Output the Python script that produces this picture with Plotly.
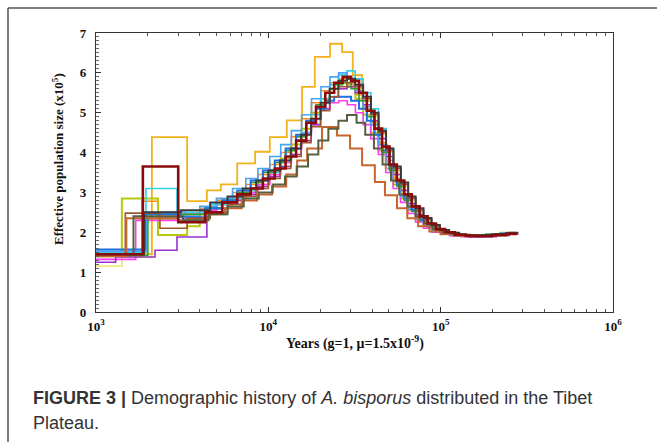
import plotly.graph_objects as go

# ---------------- data (years, Ne x10^5) ----------------
GRID_A = [4300, 5400, 6600, 7900, 9300, 10900, 12600, 14500, 16600, 18900, 21400, 24100,
          27000, 30200, 33600, 37300, 41300, 45700, 50500, 55700, 61500, 68000, 75500,
          84000, 94000, 106000, 121000, 140000, 165000, 198000, 240000, 277000]
GRID_B = [4600, 5800, 7100, 8500, 10000, 11700, 13500, 15500, 17700, 20100, 22700, 25500,
          28600, 31900, 35500, 39400, 43600, 48200, 53200, 58700, 64800, 71600, 79500,
          88500, 99000, 112000, 128000, 148000, 175000, 210000, 250000, 282000]
GRID_C = [4000, 5000, 6200, 7400, 8700, 10200, 11800, 13600, 15600, 17800, 20200, 22800,
          25600, 28700, 32000, 35500, 39300, 43500, 48000, 53000, 58500, 64500, 71500,
          79500, 89000, 100000, 114000, 131000, 153000, 183000, 222000, 270000]

gold_t = [1000, 2110, 3380, 4400, 5300, 6600, 8380, 10200, 12800, 15700, 18600, 22800, 26800,
          30900, 35000, 39500, 44000, 49000, 54500, 60500, 67000, 74500, 83000, 93000, 105000,
          120000, 140000, 165000, 198000, 240000, 277000]
gold_n = [1.45, 4.39, 2.78, 3.05, 3.2, 3.73, 4.02, 4.39, 4.81, 5.65, 6.4, 6.73, 6.52, 5.94,
          5.3, 4.75, 4.2, 3.7, 3.25, 2.85, 2.55, 2.32, 2.15, 2.04, 1.97, 1.93, 1.91, 1.92,
          1.95, 1.98]

sienna_t = [1000, 1500, 3000, 4300, 5600, 7000, 8600, 10500, 12700, 14700, 16800, 20500, 25000,
            29800, 35000, 41500, 47500, 55800, 64000, 74000, 86000, 100000, 120000, 145000,
            175000, 215000, 250000, 277000]
sienna_n = [1.4, 2.35, 2.3, 2.45, 2.6, 2.8, 2.95, 3.15, 3.45, 3.8, 4.1, 4.64, 4.43, 4.1, 3.68,
            3.26, 2.93, 2.6, 2.35, 2.15, 2.02, 1.95, 1.91, 1.9, 1.92, 1.95, 1.98]

olive_t = [1000, 1650, 3200, 4500, 5800, 7200, 8800, 10600, 12500, 14600, 17000, 19500, 22300,
           25500, 28600, 32500, 36500, 41000, 46000, 51500, 57500, 64000, 71500, 80000, 90000,
           102000, 118000, 140000, 168000, 205000, 250000, 277000]
olive_n = [1.45, 2.4, 2.3, 2.45, 2.65, 2.85, 3.0, 3.2, 3.4, 3.65, 3.95, 4.3, 4.6, 4.8, 4.94,
           4.75, 4.45, 4.1, 3.7, 3.3, 2.95, 2.65, 2.4, 2.22, 2.08, 2.0, 1.95, 1.92, 1.92, 1.95,
           1.98]

darkred_t0 = [1000, 1870, 3000]
darkred_n0 = [1.45, 3.65, 2.25]
darkred_n = [2.5, 2.75, 2.95, 3.1, 3.35, 3.6, 3.9, 4.3, 4.75, 5.15, 5.5, 5.75, 5.9, 5.8, 5.5,
             5.05, 4.6, 4.15, 3.7, 3.3, 2.95, 2.65, 2.4, 2.22, 2.08, 2.0, 1.94, 1.91, 1.9,
             1.93, 1.96]

cyan_t0 = [1000, 1950, 2950]
cyan_n0 = [1.5, 3.1, 2.5]
cyan_n = [2.7, 2.85, 3.05, 3.3, 3.5, 3.8, 4.1, 4.5, 4.95, 5.35, 5.7, 5.95, 6.05, 5.85, 5.5,
          5.1, 4.6, 4.1, 3.6, 3.2, 2.85, 2.55, 2.32, 2.15, 2.04, 1.97, 1.93, 1.9, 1.92, 1.95,
          1.98]

ygreen_t0 = [1000, 1413, 2290, 3380]
ygreen_n0 = [1.4, 2.85, 1.93, 2.15]
ygreen_n = [2.45, 2.7, 2.9, 3.05, 3.3, 3.55, 3.85, 4.2, 4.6, 5.0, 5.35, 5.6, 5.75, 5.65, 5.35,
            4.95, 4.5, 4.05, 3.6, 3.2, 2.85, 2.55, 2.33, 2.17, 2.05, 1.98, 1.94, 1.92, 1.93,
            1.96, 1.99]

yellow_t0 = [1000, 1413, 2100, 3500]
yellow_n0 = [1.15, 1.38, 2.3, 2.45]
yellow_n = [2.6, 2.8, 3.0, 3.2, 3.4, 3.65, 3.95, 4.3, 4.7, 5.1, 5.4, 5.6, 5.7, 5.6, 5.3, 4.9,
            4.45, 4.0, 3.55, 3.15, 2.8, 2.5, 2.28, 2.12, 2.02, 1.96, 1.92, 1.9, 1.91, 1.94,
            1.97]

magenta_t0 = [1000, 1700, 3300]
magenta_n0 = [1.32, 2.3, 2.45]
magenta_n = [2.55, 2.7, 2.85, 3.0, 3.2, 3.45, 3.75, 4.1, 4.5, 4.85, 5.1, 5.25, 5.3, 5.2, 5.0,
             4.7, 4.35, 3.95, 3.5, 3.1, 2.75, 2.47, 2.26, 2.1, 2.0, 1.95, 1.91, 1.89, 1.9,
             1.93, 1.96]

purple_t0 = [1000, 1300, 2200, 2950, 4400]
purple_n0 = [1.25, 1.38, 1.55, 1.88, 2.4]
purple_n = [2.6, 2.8, 2.95, 3.15, 3.4, 3.65, 3.95, 4.3, 4.7, 5.1, 5.4, 5.6, 5.65, 5.5, 5.2,
            4.8, 4.35, 3.9, 3.45, 3.05, 2.72, 2.45, 2.25, 2.1, 2.0, 1.94, 1.9, 1.88, 1.89,
            1.92, 1.95]

blue_t0 = [1000, 1930, 3100]
blue_n0 = [1.57, 2.45, 2.38]
blue_n = [2.6, 2.8, 3.05, 3.3, 3.55, 3.8, 4.1, 4.45, 4.8, 5.1, 5.3, 5.4, 5.4, 5.3, 5.1, 4.8,
          4.45, 4.05, 3.6, 3.2, 2.85, 2.55, 2.32, 2.15, 2.04, 1.97, 1.93, 1.91, 1.92, 1.95,
          1.98]

brown_t0 = [1000, 1480, 2350, 3380]
brown_n0 = [1.42, 2.48, 2.1, 2.35]
brown_n = [2.5, 2.7, 2.9, 3.1, 3.35, 3.6, 3.9, 4.25, 4.65, 5.05, 5.4, 5.65, 5.75, 5.65, 5.35,
           4.95, 4.5, 4.05, 3.6, 3.2, 2.85, 2.55, 2.32, 2.16, 2.05, 1.98, 1.94, 1.92, 1.93,
           1.96, 1.99]

orange_t0 = [1000, 1850, 2290]
orange_n0 = [1.4, 2.78, 2.45]
orange_n = [2.6, 2.8, 3.0, 3.2, 3.45, 3.7, 4.0, 4.4, 4.85, 5.25, 5.55, 5.75, 5.85, 5.7, 5.45,
            5.1, 4.7, 4.25, 3.8, 3.35, 2.95, 2.62, 2.37, 2.18, 2.06, 1.98, 1.93, 1.9, 1.91,
            1.94, 1.97]

green_t0 = [1000, 2000, 3000]
green_n0 = [1.42, 2.35, 2.45]
green_n = [2.6, 2.8, 3.0, 3.25, 3.5, 3.75, 4.05, 4.4, 4.8, 5.2, 5.5, 5.7, 5.75, 5.6, 5.3, 4.9,
           4.45, 4.0, 3.55, 3.15, 2.8, 2.52, 2.3, 2.14, 2.03, 1.97, 1.93, 1.91, 1.92, 1.95,
           1.98]

dgray_t0 = [1000, 1900, 3100]
dgray_n0 = [1.45, 2.5, 2.55]
dgray_n = [2.75, 2.9, 3.1, 3.3, 3.55, 3.8, 4.1, 4.45, 4.85, 5.25, 5.6, 5.8, 5.85, 5.7, 5.4,
           5.0, 4.55, 4.1, 3.65, 3.25, 2.9, 2.6, 2.36, 2.18, 2.06, 1.99, 1.94, 1.92, 1.93,
           1.96, 1.99]

lblue_t0 = [1000, 1950, 3300]
lblue_n0 = [1.52, 2.5, 2.4]
lblue_n = [2.65, 2.85, 3.1, 3.35, 3.6, 3.9, 4.2, 4.55, 4.95, 5.35, 5.65, 5.9, 6.0, 5.85, 5.55,
           5.15, 4.7, 4.2, 3.7, 3.28, 2.9, 2.58, 2.34, 2.16, 2.05, 1.98, 1.93, 1.91, 1.92,
           1.95, 1.98]

x_tick_vals = [1000, 10000, 100000, 1000000]
x_tick_text = ["10<sup>3</sup>", "10<sup>4</sup>", "10<sup>5</sup>", "10<sup>6</sup>"]
x_minor_vals = [m * d for d in (1000, 10000, 100000) for m in range(2, 10)]

# ---------------- build ----------------
def custom(t, n):
    return list(t), list(n) + [n[-1]]

def gridded(t0, n0, grid, n):
    return list(t0) + list(grid), list(n0) + list(n) + [n[-1]]

series = [
    ("yellow", gridded(yellow_t0, yellow_n0, GRID_B, yellow_n), "#ece04a", 1.4),
    ("gold", custom(gold_t, gold_n), "#f2b21c", 1.8),
    ("orange", gridded(orange_t0, orange_n0, GRID_C, orange_n), "#ff8c1f", 1.6),
    ("ygreen", gridded(ygreen_t0, ygreen_n0, GRID_C, ygreen_n), "#b7c70c", 2.0),
    ("magenta", gridded(magenta_t0, magenta_n0, GRID_C, magenta_n), "#ff3cef", 1.6),
    ("purple", gridded(purple_t0, purple_n0, GRID_B, purple_n), "#9a30d2", 1.6),
    ("cyan", gridded(cyan_t0, cyan_n0, GRID_B, cyan_n), "#2fd3ea", 1.6),
    ("lblue", gridded(lblue_t0, lblue_n0, GRID_C, lblue_n), "#4aa3f5", 1.6),
    ("green", gridded(green_t0, green_n0, GRID_A, green_n), "#2ca02c", 1.6),
    ("blue", gridded(blue_t0, blue_n0, GRID_A, blue_n), "#1f6fe0", 2.0),
    ("brown", gridded(brown_t0, brown_n0, GRID_B, brown_n), "#a0562f", 1.6),
    ("sienna", custom(sienna_t, sienna_n), "#c8642e", 2.0),
    ("olive", custom(olive_t, olive_n), "#56603f", 2.0),
    ("dgray", gridded(dgray_t0, dgray_n0, GRID_B, dgray_n), "#3a3a3a", 2.0),
    ("darkred", gridded(darkred_t0, darkred_n0, GRID_A, darkred_n), "#8b0a0a", 2.6),
]

fig = go.Figure()
for name, (xs, ys), col, w in series:
    fig.add_trace(go.Scatter(x=xs, y=ys, mode="lines", name=name,
                             line=dict(color=col, width=w, shape="hv"),
                             showlegend=False, hoverinfo="skip"))

L, R, T, B = 96, 44, 33, 130
W, H = 657, 442
pw, ph = W - L - R, H - T - B

def px(xp):
    return (xp - L) / pw

def py(yp):
    return (H - B - yp) / ph

SERIF = "Liberation Serif, Times New Roman, serif"
tick_font = dict(family=SERIF, size=13, color="#111", weight="bold")

fig.update_layout(
    width=W, height=H,
    margin=dict(l=L, r=R, t=T, b=B),
    paper_bgcolor="white", plot_bgcolor="white",
    xaxis=dict(type="log", range=[3, 6], tickmode="array", tickvals=x_tick_vals,
               ticktext=x_tick_text, ticks="inside", ticklen=5, tickcolor="#333",
               showline=True, linecolor="#333", linewidth=1.3, mirror="allticks",
               showgrid=False, zeroline=False, tickfont=tick_font, ticklabelstandoff=2,
               minor=dict(tickmode="array", tickvals=x_minor_vals, ticks="inside",
                          ticklen=3, tickcolor="#555", showgrid=False)),
    yaxis=dict(range=[0, 7], dtick=1, ticks="inside", ticklen=5, tickcolor="#333",
               showline=True, linecolor="#333", linewidth=1.3, mirror=True,
               showgrid=False, zeroline=False, tickfont=tick_font, ticklabelstandoff=6,
               minor=dict(dtick=0.1, ticks="inside", ticklen=3, tickcolor="#666",
                          showgrid=False)),
    font=dict(family=SERIF, color="#111"),
)

anns = [
    dict(text="Effective population size (x10<sup>5</sup>)", x=px(58), y=py(159),
         textangle=-90, font=dict(family=SERIF, size=13, color="#111", weight="bold"),
         showarrow=False, xanchor="center", yanchor="middle"),
    dict(text="Years (g=1, \u03bc=1.5x10<sup>-9</sup>)", x=0.5, y=py(342),
         font=dict(family=SERIF, size=14, color="#111", weight="bold"),
         showarrow=False, xanchor="center", yanchor="middle"),
    dict(text="<b>FIGURE 3 |</b> Demographic history of <i>A. bisporus</i> distributed in the Tibet",
         x=px(31), y=py(398), xanchor="left", yanchor="middle", showarrow=False,
         font=dict(family="Liberation Sans, Arial, sans-serif", size=18, color="#333")),
    dict(text="Plateau.", x=px(31), y=py(423), xanchor="left", yanchor="middle",
         showarrow=False,
         font=dict(family="Liberation Sans, Arial, sans-serif", size=18, color="#333")),
]
for a in anns:
    a.update(xref="paper", yref="paper")
fig.update_layout(annotations=anns)

# figure frame (top and left edges visible)
fig.add_shape(type="line", xref="paper", yref="paper", x0=px(8), y0=py(8), x1=px(700), y1=py(8),
              line=dict(color="#555", width=1.5))
fig.add_shape(type="line", xref="paper", yref="paper", x0=px(8), y0=py(8), x1=px(8), y1=py(480),
              line=dict(color="#555", width=1.5))

fig.write_html("out.html")
